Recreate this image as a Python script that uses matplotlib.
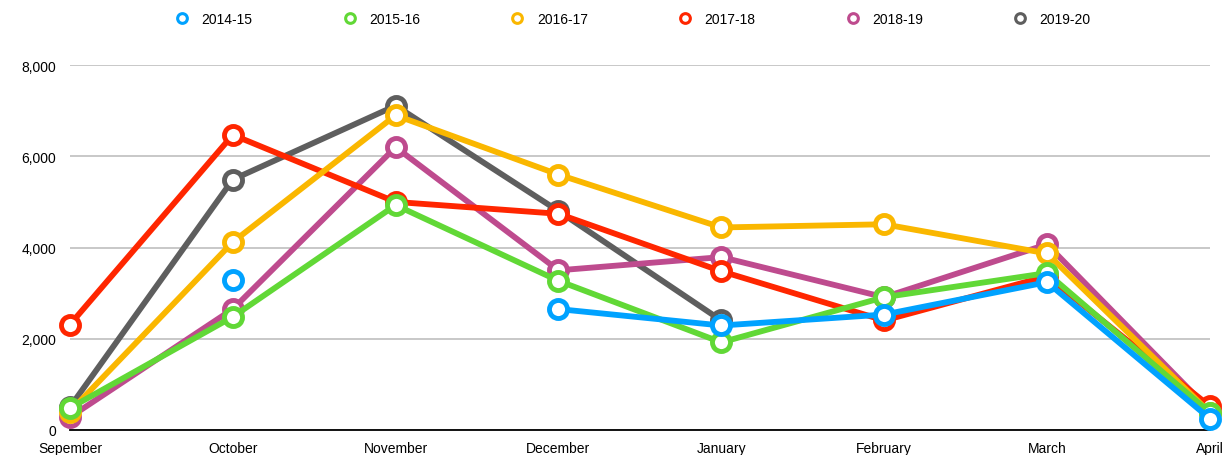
import numpy as np
import matplotlib.pyplot as plt

plt.rcParams['font.family'] = ['Liberation Sans', 'DejaVu Sans']

# data
months = ['Sepember', 'October', 'November', 'December', 'January', 'February', 'March', 'April']
seasons = ['2014-15', '2015-16', '2016-17', '2017-18', '2018-19', '2019-20']
nan = np.nan
values = {
    '2014-15': [nan, 3280, nan, 2650, 2290, 2530, 3240, 250],
    '2015-16': [480, 2480, 4930, 3270, 1920, 2910, 3440, 380],
    '2016-17': [400, 4120, 6900, 5600, 4440, 4510, 3870, 380],
    '2017-18': [2310, 6470, 5000, 4740, 3480, 2400, 3370, 520],
    '2018-19': [280, 2650, 6200, 3500, 3790, 2910, 4070, 430],
    '2019-20': [500, 5490, 7110, 4800, 2400, nan, nan, nan],
}
colors = ['#00A2FF', '#61D836', '#FAB700', '#FF2600', '#BE4B8E', '#5E5E5E']

fig = plt.figure(figsize=(12.27, 4.56), dpi=100)
ax = fig.add_axes([0.057, 0.055, 0.929, 0.80])

x = np.arange(len(months))
for i, (s, c) in enumerate(zip(seasons, colors)):
    ax.plot(x, values[s], color=c, lw=4.2, marker='o', ms=13, mfc='white',
            mec=c, mew=3.5, label=s, zorder=10 - i, clip_on=False)

ax.set_xlim(0, len(months) - 1)
ax.set_ylim(0, 8000)
ax.set_yticks([0, 2000, 4000, 6000, 8000])
ax.set_yticklabels(['0', '2,000', '4,000', '6,000', '8,000'])
ax.set_xticks(x)
ax.set_xticklabels(months)
ax.tick_params(length=0, labelsize=10, pad=8)
ax.tick_params(axis='y', pad=10)
ax.grid(axis='y', color='#C4C4C4', lw=1.3)
ax.set_axisbelow(True)
for sp in ['top', 'right', 'left']:
    ax.spines[sp].set_visible(False)
ax.spines['bottom'].set_color('black')
ax.spines['bottom'].set_linewidth(1.3)

handles = [plt.Line2D([], [], ls='none', marker='o', ms=7, mfc='white', mec=c, mew=2.2)
           for c in colors]
fig.legend(handles, seasons, loc='upper center', bbox_to_anchor=(0.513, 1.0), ncol=6,
           frameon=False, fontsize=10, columnspacing=6.0, handletextpad=0.4)

fig.savefig('out.png', dpi=100)
